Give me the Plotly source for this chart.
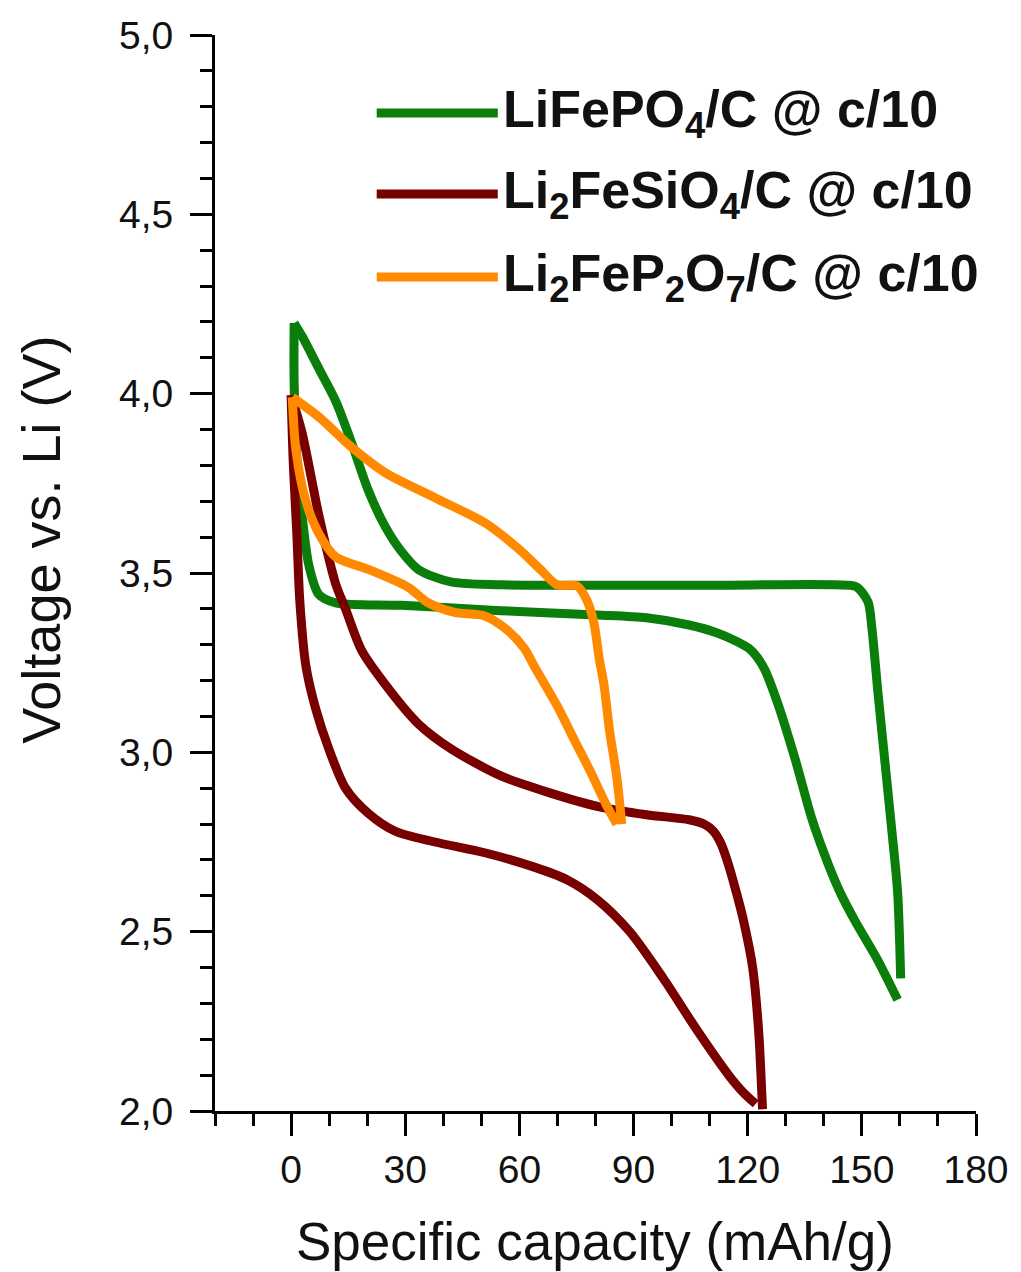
import plotly.graph_objects as go

# ---------------- data ----------------
series_names = ["LiFePO<sub>4</sub>/C @ c/10",
                "Li<sub>2</sub>FeSiO<sub>4</sub>/C @ c/10",
                "Li<sub>2</sub>FeP<sub>2</sub>O<sub>7</sub>/C @ c/10"]
series_colors = ["#0a7d0a", "#780000", "#ff8a00"]

# LiFePO4/C  (upper branch and lower branch, both starting at the 4.2 V tip)
lfp_up_x = [0.8, 2.9, 7.3, 11.7, 16, 20.3, 24.7, 29, 33.4, 42, 55, 80, 110, 143, 148.5, 151.6, 152.6,
            154.2, 156, 157.8, 159.4, 160.2]
lfp_up_v = [4.197, 4.16, 4.07, 3.98, 3.86, 3.73, 3.63, 3.56, 3.51, 3.475, 3.467, 3.466, 3.466, 3.467,
            3.462, 3.42, 3.35, 3.17, 2.98, 2.79, 2.61, 2.37]
lfp_dn_x = [0.8, 0.8, 1.6, 2.9, 4.7, 7.3, 11.7, 29, 55, 80.4, 93.4, 104.6, 112, 117, 120.3, 122.5,
            124.5, 128.1, 132.5, 137, 141.1, 144.5, 148.2, 154.2, 159.4]
lfp_dn_v = [4.197, 4.03, 3.80, 3.66, 3.52, 3.44, 3.417, 3.41, 3.395, 3.383, 3.375, 3.355, 3.333, 3.31,
            3.29, 3.265, 3.23, 3.13, 2.98, 2.81, 2.69, 2.605, 2.53, 2.42, 2.31]

# Li2FeSiO4/C
lfs_up_x = [0, 2.9, 7.3, 11.7, 14.3, 18.5, 24.7, 33.4, 42, 55, 68, 81, 93.4, 104.6, 108.5, 111, 113,
            115, 117, 118.7, 121.3, 122.9, 123.7, 123.9]
lfs_up_v = [3.996, 3.89, 3.66, 3.47, 3.40, 3.285, 3.19, 3.08, 3.01, 2.935, 2.887, 2.848, 2.826, 2.812,
            2.80, 2.78, 2.745, 2.685, 2.61, 2.54, 2.40, 2.22, 2.05, 2.005]
lfs_dn_x = [0, 0.6, 1.5, 2.3, 3.9, 6.5, 9.9, 14.3, 20.3, 27.4, 37.8, 50.9, 63.9, 72.5, 80.4, 89, 97.8,
            106.4, 115, 119, 122.1]
lfs_dn_v = [3.996, 3.80, 3.61, 3.42, 3.24, 3.12, 3.01, 2.90, 2.83, 2.78, 2.75, 2.72, 2.68, 2.645, 2.59,
            2.50, 2.37, 2.23, 2.10, 2.05, 2.02]

# Li2FeP2O7/C
lfpo_up_x = [0.3, 7.3, 16, 24.7, 37.8, 50.9, 59.5, 65.5, 69.9, 75.1, 77.7, 79.6, 81, 82.2, 83.7, 85.6,
             86.9]
lfpo_up_v = [3.99, 3.935, 3.85, 3.78, 3.71, 3.64, 3.57, 3.51, 3.467, 3.464, 3.425, 3.36, 3.26, 3.19,
             3.06, 2.93, 2.80]
lfpo_dn_x = [0.3, 1.3, 3.9, 7.3, 11.7, 20.3, 30.8, 36, 43, 50.9, 56.9, 61.3, 63.9, 69.9, 74.4, 78.5,
             83, 85.6]
lfpo_dn_v = [3.99, 3.84, 3.70, 3.61, 3.545, 3.51, 3.46, 3.417, 3.39, 3.38, 3.34, 3.29, 3.24, 3.13,
             3.035, 2.95, 2.85, 2.80]

x_ticks = [0, 30, 60, 90, 120, 150, 180]
x_tick_labels = ["0", "30", "60", "90", "120", "150", "180"]
y_ticks = [2.0, 2.5, 3.0, 3.5, 4.0, 4.5, 5.0]
y_tick_labels = ["2,0", "2,5", "3,0", "3,5", "4,0", "4,5", "5,0"]

# ---------------- figure ----------------
FONT = "Liberation Sans, Arial, sans-serif"
fig = go.Figure()
branches = [
    [(lfp_up_x, lfp_up_v), (lfp_dn_x, lfp_dn_v)],
    [(lfs_up_x, lfs_up_v), (lfs_dn_x, lfs_dn_v)],
    [(lfpo_up_x, lfpo_up_v), (lfpo_dn_x, lfpo_dn_v)],
]
for name, color, brs in zip(series_names, series_colors, branches):
    for i, (bx, bv) in enumerate(brs):
        fig.add_trace(go.Scatter(
            x=bx, y=bv, mode="lines", name=name, legendgroup=name, showlegend=False,
            line=dict(color=color, width=9, shape="spline", smoothing=0.8),
        ))

axis_common = dict(
    showgrid=False, zeroline=False, showline=True, linecolor="black", linewidth=3,
    ticks="outside", ticklen=22, tickwidth=3, tickcolor="black",
    tickfont=dict(family=FONT, size=39, color="#111111"),
    ticklabeloverflow="allow",
)
fig.update_xaxes(range=[-20, 180], tickmode="array", tickvals=x_ticks, ticktext=x_tick_labels,
                 minor=dict(ticks="outside", ticklen=12, tickwidth=3, tickcolor="black",
                            dtick=10, tick0=0, showgrid=False),
                 ticklabelstandoff=0,
                 **axis_common)
fig.update_yaxes(range=[2, 5], tickmode="array", tickvals=y_ticks, ticktext=y_tick_labels,
                 minor=dict(ticks="outside", ticklen=12, tickwidth=3, tickcolor="black",
                            dtick=0.1, tick0=2, showgrid=False),
                 ticklabelstandoff=9,
                 **axis_common)

# axis titles
fig.add_annotation(text="Specific capacity (mAh/g)", xref="paper", yref="paper",
                   x=0.4994, y=-0.1217, showarrow=False, xanchor="center", yanchor="middle",
                   font=dict(family=FONT, size=53, color="#111111"))
fig.add_annotation(text="Voltage vs. Li (V)", xref="paper", yref="paper",
                   x=-0.229, y=0.5307, showarrow=False, textangle=-90,
                   xanchor="center", yanchor="middle",
                   font=dict(family=FONT, size=54, color="#111111"))

# legend (drawn by hand to mimic long line samples)
legend_y = [0.9275, 0.8522, 0.7751]
for name, color, ly in zip(series_names, series_colors, legend_y):
    fig.add_shape(type="line", xref="paper", yref="paper", x0=0.2125, x1=0.3716, y0=ly, y1=ly,
                  line=dict(color=color, width=9))
    fig.add_annotation(text="<b>" + name + "</b>", xref="paper", yref="paper",
                       x=0.376, y=ly, showarrow=False, xanchor="left", yanchor="middle",
                       font=dict(family=FONT, size=52, color="#111111"))

fig.update_layout(
    width=1021, height=1272,
    margin=dict(l=215, r=33, t=35, b=161),
    plot_bgcolor="white", paper_bgcolor="white",
    showlegend=False,
)
# remove the default 8 px page margin so the figure fills the window exactly
fig.write_html("out.html",
               config={"displayModeBar": False},
               post_script=("document.documentElement.style.overflow='hidden';"
                            "document.body.style.margin='0px';"
                            "document.body.style.overflow='hidden';"))
